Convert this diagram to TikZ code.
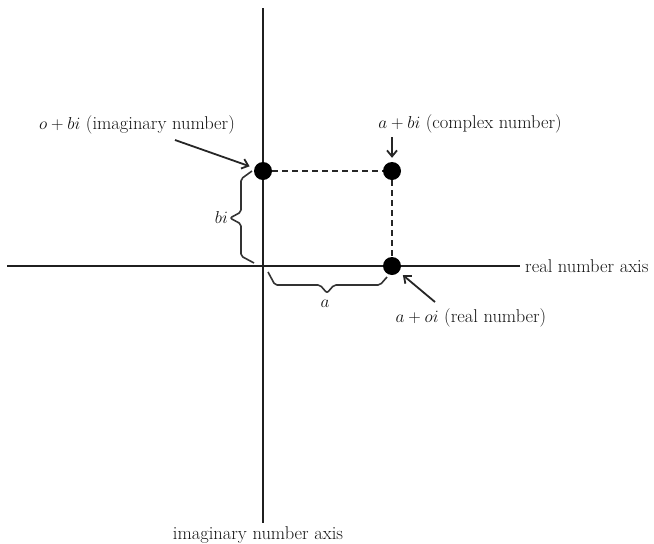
\documentclass[tikz,border=0pt]{standalone}
\usetikzlibrary{arrows.meta}
\begin{document}
\begin{tikzpicture}[x=1pt,y=-1pt,
  every node/.style={font=\fontsize{18.5}{22}\selectfont, inner sep=0pt},
  axisline/.style={line width=2.6pt, black!88},
  dotnode/.style={circle, fill=black, minimum size=18pt, inner sep=0pt},
  dashline/.style={line width=1.9pt, dash pattern=on 6pt off 4pt, black!85},
  ptr/.style={line width=1.8pt, black!85, -{Straight Barb[length=6pt,width=10pt]}},
  bracepath/.style={line width=1.6pt, black!80, rounded corners=2pt, line join=round},
  lbl/.style={text=black!92}
]
\useasboundingbox (0,0) rectangle (654,544);

% axes
\coordinate (ytop) at (263,8);
\coordinate (ybot) at (263,523);
\coordinate (xleft) at (7,266);
\coordinate (xright) at (520,266);
\draw[axisline] (ytop) -- (ybot);
\draw[axisline] (xleft) -- (xright);
\node[lbl, anchor=west] (xlab) at (525,266) {real number axis};
\node[lbl, anchor=north] (ylab) at (258,526) {imaginary number axis};

% points
\node[dotnode] (imagdot) at (263,171) {};
\node[dotnode] (cplxdot) at (392,171) {};
\node[dotnode] (realdot) at (392,266) {};

% dashed lines
\draw[dashline] (imagdot) -- (cplxdot);
\draw[dashline] (cplxdot) -- (realdot);

% labels
\node[lbl] (lblI) at (137,125) {$o+bi$ (imaginary number)};
\node[lbl] (lblC) at (470,124) {$a+bi$ (complex number)};
\node[lbl] (lblR) at (471,318) {$a+oi$ (real number)};

% arrows
\coordinate (tI) at (175,140);
\coordinate (tC) at (392,137);
\coordinate (tR) at (435,302);
\draw[ptr, shorten >=5pt] (tI) -- (imagdot);
\draw[ptr, shorten >=4pt] (tC) -- (cplxdot);
\draw[ptr, shorten >=5pt] (tR) -- (realdot);

% braces
\draw[bracepath] (252,171) -- (241,179) -- (241,212) -- (230,218) -- (241,224) -- (241,256) -- (254,263);
\node[lbl, anchor=east] (bilbl) at (228,217) {$bi$};
\draw[bracepath] (268,272) -- (275,285) -- (320,285) -- (327,293) -- (334,285) -- (380,285) -- (387,277);
\node[lbl] (albl) at (325,304) {$a$};
\end{tikzpicture}
\end{document}
